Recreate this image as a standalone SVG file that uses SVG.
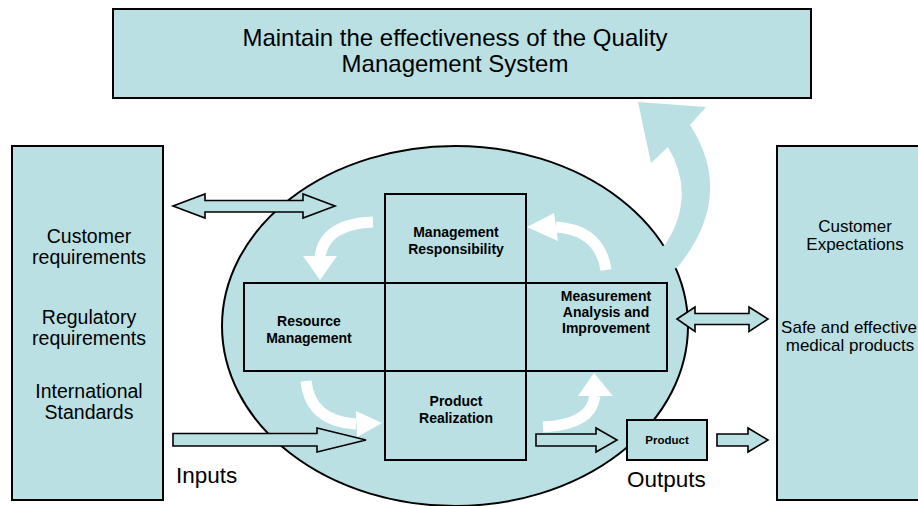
<svg xmlns="http://www.w3.org/2000/svg" width="918" height="506" viewBox="0 0 918 506">
  <style>
    .box { fill: #bbe0e3; stroke: #000; stroke-width: 2; }
    .blk { fill: #bbe0e3; stroke: #000; stroke-width: 1.6; stroke-linejoin: miter; }
    .flow { fill: none; stroke: #fff; stroke-width: 11; }
    .head { fill: #fff; stroke: none; }
    .txt { font-family: "Liberation Sans", Arial, sans-serif; fill: #000; text-anchor: middle; }
    .big { font-size: 24px; }
    .side { font-size: 19.5px; }
    .rside { font-size: 17px; }
    .lab { font-size: 14px; font-weight: bold; }
    .small { font-size: 11.5px; font-weight: bold; }
    .io { font-size: 22.5px; text-anchor: start; }
  </style>
  <rect width="918" height="506" fill="#fff"/>

  <!-- goal banner -->
  <g id="goal">
    <rect class="box" x="113" y="9" width="698" height="89"/>
    <text class="txt big" x="455" y="46">Maintain the effectiveness of the Quality</text>
    <text class="txt big" x="455" y="72">Management System</text>
  </g>

  <!-- requirements (left) -->
  <g id="requirements">
    <rect class="box" x="12" y="146" width="151" height="354"/>
    <text class="txt side" x="89" y="243">Customer</text>
    <text class="txt side" x="89" y="264">requirements</text>
    <text class="txt side" x="89" y="324">Regulatory</text>
    <text class="txt side" x="89" y="345">requirements</text>
    <text class="txt side" x="89" y="398">International</text>
    <text class="txt side" x="89" y="419">Standards</text>
  </g>

  <!-- expectations (right) -->
  <g id="expectations">
    <rect class="box" x="777" y="146" width="160" height="354"/>
    <text class="txt rside" x="855" y="232">Customer</text>
    <text class="txt rside" x="855" y="250">Expectations</text>
    <text class="txt rside" x="849" y="333">Safe and effective</text>
    <text class="txt rside" x="850" y="351">medical products</text>
  </g>

  <!-- process ellipse -->
  <g id="system">
    <ellipse class="box" cx="455" cy="326" rx="233" ry="180"/>
  </g>

  <!-- improvement arrow up to the banner -->
  <g id="improve-arrow">
    <path fill="#bbe0e3" d="M665,245 Q697,196 668,147 L651,163 L638,102 L706,107 L690,125 Q736,196 677,268 L660,272 L655,250 Z"/>
  </g>

  <!-- process cross -->
  <g id="management-responsibility">
    <rect class="box" x="385" y="194" width="141" height="89"/>
    <text class="txt lab" x="456" y="237">Management</text>
    <text class="txt lab" x="456" y="254">Responsibility</text>
  </g>
  <g id="resource-management">
    <rect class="box" x="244" y="283" width="141" height="88"/>
    <text class="txt lab" x="309" y="326">Resource</text>
    <text class="txt lab" x="309" y="343">Management</text>
  </g>
  <g id="core">
    <rect class="box" x="385" y="283" width="141" height="88"/>
  </g>
  <g id="measurement">
    <rect class="box" x="526" y="283" width="141" height="88"/>
    <text class="txt lab" x="606" y="301">Measurement</text>
    <text class="txt lab" x="606" y="317">Analysis and</text>
    <text class="txt lab" x="606" y="333">Improvement</text>
  </g>
  <g id="product-realization">
    <rect class="box" x="385" y="371" width="141" height="89"/>
    <text class="txt lab" x="456" y="406">Product</text>
    <text class="txt lab" x="456" y="423">Realization</text>
  </g>

  <g id="product">
    <rect class="box" x="627" y="420" width="80" height="40"/>
    <text class="txt small" x="667" y="444">Product</text>
  </g>

  <!-- connectors -->
  <g id="connectors">
    <!-- cycle arrows -->
    <path class="flow" d="M373,222 Q324,224 320,257"/>
    <polygon class="head" points="303,256 337,256 320,280"/>
    <path class="flow" d="M606,270 Q600,230 556,227"/>
    <polygon class="head" points="554,213 558,241 527,227"/>
    <path class="flow" d="M306,381 Q310,421 356,424"/>
    <polygon class="head" points="356,411 357,437 382,423"/>
    <path class="flow" d="M543,427 Q591,425 595,396"/>
    <polygon class="head" points="578,396 613,396 594,373"/>

    <!-- block arrows -->
    <polygon class="blk" points="173,206 205,194 205,200.5 303,200.5 303,194 335,206 303,218 303,212 205,212 205,218"/>
    <polygon class="blk" points="677,319 695,307 695,313.5 749,313.5 749,307 768,319 749,331.5 749,324.5 695,324.5 695,331.5"/>
    <polygon class="blk" points="173,433.5 317,433.5 317,428 366,440 317,452 317,446 173,446"/>
    <polygon class="blk" points="536,434 596,434 596,428 617,440 596,452 596,446 536,446"/>
    <polygon class="blk" points="717,434 748,434 748,428 768,440 748,452 748,446 717,446"/>
  </g>

  <text class="txt io" x="176" y="483">Inputs</text>
  <text class="txt io" x="627" y="487">Outputs</text>
</svg>
